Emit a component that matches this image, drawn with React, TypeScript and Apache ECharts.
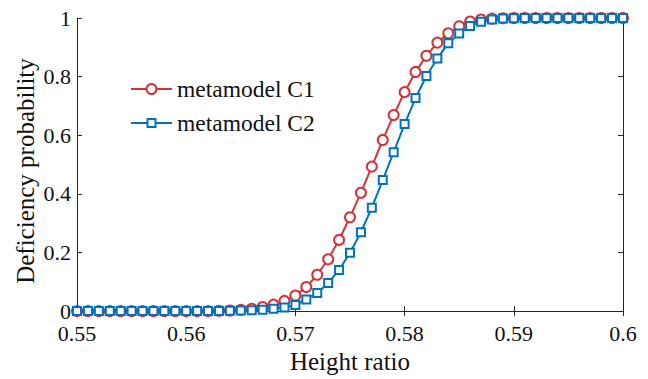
import React, { useEffect, useRef } from "react";
import * as echarts from "echarts";

const heightRatio = [
  0.55, 0.551, 0.552, 0.553, 0.554, 0.555, 0.556, 0.557, 0.558, 0.559,
  0.56, 0.561, 0.562, 0.563, 0.564, 0.565, 0.566, 0.567, 0.568, 0.569,
  0.57, 0.571, 0.572, 0.573, 0.574, 0.575, 0.576, 0.577, 0.578, 0.579,
  0.58, 0.581, 0.582, 0.583, 0.584, 0.585, 0.586, 0.587, 0.588, 0.589,
  0.59, 0.591, 0.592, 0.593, 0.594, 0.595, 0.596, 0.597, 0.598, 0.599,
  0.6,
];

const metamodelC1 = [
  0, 0, 0, 0, 0, 0, 0, 0, 0, 0,
  0, 0, 0, 0.001, 0.002, 0.004, 0.008, 0.014, 0.022, 0.035,
  0.053, 0.082, 0.124, 0.177, 0.243, 0.32, 0.404, 0.493, 0.584, 0.669,
  0.747, 0.816, 0.871, 0.916, 0.948, 0.972, 0.988, 0.995, 0.998, 0.999,
  1, 1, 1, 1, 1, 1, 1, 1, 1, 1,
  1,
];

const metamodelC2 = [
  0, 0, 0, 0, 0, 0, 0, 0, 0, 0,
  0, 0, 0, 0.0005, 0.001, 0.002, 0.003, 0.005, 0.008, 0.012,
  0.021, 0.04, 0.062, 0.096, 0.14, 0.199, 0.269, 0.353, 0.447, 0.542,
  0.638, 0.727, 0.802, 0.862, 0.914, 0.947, 0.973, 0.987, 0.995, 0.998,
  0.999, 1, 1, 1, 1, 1, 1, 1, 1, 1,
  1,
];

const seriesNames = ["metamodel C1", "metamodel C2"];
const xTicks = [0.55, 0.56, 0.57, 0.58, 0.59, 0.6];
const yTicks = [0, 0.2, 0.4, 0.6, 0.8, 1];
const xTitle = "Height ratio";
const yTitle = "Deficiency probability";

const FONT = "Liberation Serif";
const AXIS_COLOR = "#262626";
const TEXT_COLOR = "#111111";
const RED = "#D0343A";
const BLUE = "#0072BD";

export default function App() {
  const ref = useRef<HTMLDivElement>(null);
  useEffect(() => {
    if (!ref.current) return;
    const chart = echarts.init(ref.current, null, { renderer: "svg" });
    const fmt = (v: number) => String(parseFloat(v.toFixed(2)));
    const boxAxis = {
      axisLine: { show: true, lineStyle: { color: AXIS_COLOR, width: 1 } },
      axisTick: { show: true, inside: true, length: 5, lineStyle: { color: AXIS_COLOR } },
      axisLabel: { show: false },
      splitLine: { show: false },
    };

    // legend drawn as graphic (line + marker + text)
    const legendX = 131;
    const legendW = 41;
    const legendY = [89, 123];
    const colors = [RED, BLUE];
    const legendItems: any[] = [];
    seriesNames.forEach((name, i) => {
      const y = legendY[i];
      legendItems.push({
        type: "line",
        shape: { x1: legendX, y1: y, x2: legendX + legendW, y2: y },
        style: { stroke: colors[i], lineWidth: 2 },
        z: 10,
      });
      if (i === 0) {
        legendItems.push({
          type: "circle",
          shape: { cx: legendX + legendW / 2, cy: y, r: 5 },
          style: { fill: "#fff", stroke: colors[i], lineWidth: 2 },
          z: 11,
        });
      } else {
        legendItems.push({
          type: "rect",
          shape: { x: legendX + legendW / 2 - 4, y: y - 4, width: 8, height: 8 },
          style: { fill: "#fff", stroke: colors[i], lineWidth: 2 },
          z: 11,
        });
      }
      legendItems.push({
        type: "text",
        x: legendX + legendW + 5,
        y: y,
        style: {
          text: name,
          fontFamily: FONT,
          fontSize: 23.5,
          fill: TEXT_COLOR,
          align: "left",
          verticalAlign: "middle",
        },
        z: 11,
      });
    });

    chart.setOption({
      animation: false,
      backgroundColor: "#ffffff",
      textStyle: { fontFamily: FONT },
      grid: { left: 77, right: 25, top: 18, bottom: 61, containLabel: false },
      graphic: [
        {
          type: "text",
          x: 25,
          y: 171,
          rotation: Math.PI / 2,
          style: {
            text: yTitle,
            fontFamily: FONT,
            fontSize: 25,
            fill: TEXT_COLOR,
            align: "center",
            verticalAlign: "middle",
          },
        },
        ...legendItems,
      ],
      xAxis: [
        {
          type: "value",
          min: xTicks[0],
          max: xTicks[xTicks.length - 1],
          interval: 0.01,
          name: xTitle,
          nameLocation: "middle",
          nameGap: 36,
          nameTextStyle: { fontFamily: FONT, fontSize: 25, color: TEXT_COLOR },
          axisLine: { show: true, onZero: false, lineStyle: { color: AXIS_COLOR, width: 1 } },
          axisTick: { show: true, inside: true, length: 5, lineStyle: { color: AXIS_COLOR } },
          axisLabel: {
            fontFamily: FONT,
            fontSize: 22,
            lineHeight: 16,
            color: TEXT_COLOR,
            margin: 14,
            formatter: fmt,
          },
          splitLine: { show: false },
        },
        {
          type: "value",
          position: "top",
          min: xTicks[0],
          max: xTicks[xTicks.length - 1],
          interval: 0.01,
          ...boxAxis,
        },
      ],
      yAxis: [
        {
          type: "value",
          min: yTicks[0],
          max: yTicks[yTicks.length - 1],
          interval: 0.2,
          axisLine: { show: true, onZero: false, lineStyle: { color: AXIS_COLOR, width: 1 } },
          axisTick: { show: true, inside: true, length: 5, lineStyle: { color: AXIS_COLOR } },
          axisLabel: {
            fontFamily: FONT,
            fontSize: 22,
            lineHeight: 16,
            color: TEXT_COLOR,
            margin: 6,
            formatter: fmt,
          },
          splitLine: { show: false },
        },
        {
          type: "value",
          position: "right",
          min: yTicks[0],
          max: yTicks[yTicks.length - 1],
          interval: 0.2,
          ...boxAxis,
        },
      ],
      series: [
        {
          name: seriesNames[0],
          type: "line",
          data: heightRatio.map((x, i) => [x, metamodelC1[i]]),
          symbol: "emptyCircle",
          symbolSize: 10,
          showAllSymbol: true,
          lineStyle: { color: RED, width: 2 },
          itemStyle: { color: RED, borderColor: RED, borderWidth: 2 },
          z: 2,
        },
        {
          name: seriesNames[1],
          type: "line",
          data: heightRatio.map((x, i) => [x, metamodelC2[i]]),
          symbol: "emptyRect",
          symbolSize: 8,
          showAllSymbol: true,
          lineStyle: { color: BLUE, width: 2 },
          itemStyle: { color: BLUE, borderColor: BLUE, borderWidth: 2 },
          z: 3,
        },
      ],
    });
    return () => chart.dispose();
  }, []);
  return <div ref={ref} style={{ width: 648, height: 379, position: "absolute", left: 0, top: 0 }} />;
}
